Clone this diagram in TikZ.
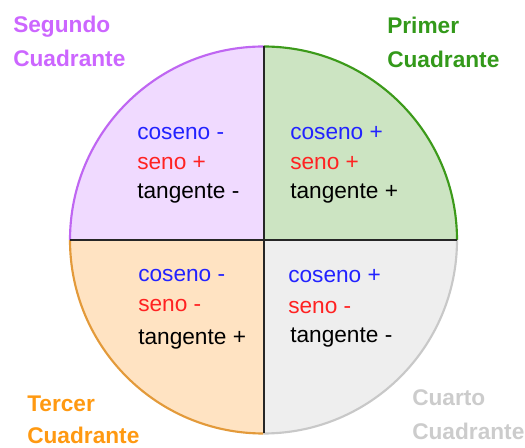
\documentclass[tikz,border=0pt]{standalone}
\usepackage{fontspec}
\setmainfont{Liberation Sans}
\definecolor{qtwofill}{HTML}{F0DAFF}
\definecolor{qonefill}{HTML}{CCE4C2}
\definecolor{qthreefill}{HTML}{FFE3C2}
\definecolor{qfourfill}{HTML}{EEEEEE}
\definecolor{qtwoline}{HTML}{BF66F2}
\definecolor{qoneline}{HTML}{3C9A1A}
\definecolor{qthreeline}{HTML}{E39A3A}
\definecolor{qfourline}{HTML}{C8C8C8}
\definecolor{labtwo}{HTML}{CC66FF}
\definecolor{labone}{HTML}{33991A}
\definecolor{labthree}{HTML}{FF9911}
\definecolor{labfour}{HTML}{CCCCCC}
\definecolor{cosblue}{HTML}{2222FF}
\definecolor{senred}{HTML}{FF2222}
\tikzset{
  body/.style={anchor=base west, inner sep=0pt, font=\fontsize{17}{20}\selectfont},
  lab/.style={anchor=base west, inner sep=0pt, font=\fontsize{17}{20}\selectfont\bfseries},
}
\begin{document}
\begin{tikzpicture}[x=0.75pt,y=-0.75pt]
\useasboundingbox (0,0) rectangle (525,448);
\coordinate (c) at (263.5,240);
\coordinate (top) at (263.5,46.5);
\coordinate (bot) at (263.5,433.5);
\coordinate (lft) at (70,240);
\coordinate (rgt) at (457,240);
% quadrant fills
\fill[qonefill] (c) -- (rgt) arc[start angle=0,end angle=-90,radius=193.5] -- cycle;
\fill[qtwofill] (c) -- (top) arc[start angle=-90,end angle=-180,radius=193.5] -- cycle;
\fill[qthreefill] (c) -- (lft) arc[start angle=180,end angle=90,radius=193.5] -- cycle;
\fill[qfourfill] (c) -- (bot) arc[start angle=90,end angle=0,radius=193.5] -- cycle;
% arcs
\draw[qoneline,line width=1.6pt] (rgt) arc[start angle=0,end angle=-90,radius=193.5];
\draw[qtwoline,line width=1.6pt] (top) arc[start angle=-90,end angle=-180,radius=193.5];
\draw[qthreeline,line width=1.6pt] (lft) arc[start angle=180,end angle=90,radius=193.5];
\draw[qfourline,line width=1.6pt] (bot) arc[start angle=90,end angle=0,radius=193.5];
% axes
\draw[line width=1.5pt,black!85] (top) -- (bot);
\draw[line width=1.5pt,black!85] (lft) -- (rgt);
% quadrant II
\node[body,text=cosblue] (q2c) at (137,140) {coseno -};
\node[body,text=senred] (q2s) at (137,170) {seno +};
\node[body] (q2t) at (137,199) {tangente -};
% quadrant I
\node[body,text=cosblue] (q1c) at (290,140) {coseno +};
\node[body,text=senred] (q1s) at (290,170) {seno +};
\node[body] (q1t) at (290,199) {tangente +};
% quadrant III
\node[body,text=cosblue] (q3c) at (138,282) {coseno -};
\node[body,text=senred] (q3s) at (138,312) {seno -};
\node[body] (q3t) at (138,345) {tangente +};
% quadrant IV
\node[body,text=cosblue] (q4c) at (288,283) {coseno +};
\node[body,text=senred] (q4s) at (288,314) {seno -};
\node[body] (q4t) at (290,343) {tangente -};
% labels
\node[lab,text=labtwo] (l2a) at (13,33) {Segundo};
\node[lab,text=labtwo] (l2b) at (13,67) {Cuadrante};
\node[lab,text=labone] (l1a) at (387,34) {Primer};
\node[lab,text=labone] (l1b) at (387,68) {Cuadrante};
\node[lab,text=labthree] (l3a) at (27,412) {Tercer};
\node[lab,text=labthree] (l3b) at (27,444) {Cuadrante};
\node[lab,text=labfour] (l4a) at (412,406) {Cuarto};
\node[lab,text=labfour] (l4b) at (412,440) {Cuadrante};
\end{tikzpicture}
\end{document}
